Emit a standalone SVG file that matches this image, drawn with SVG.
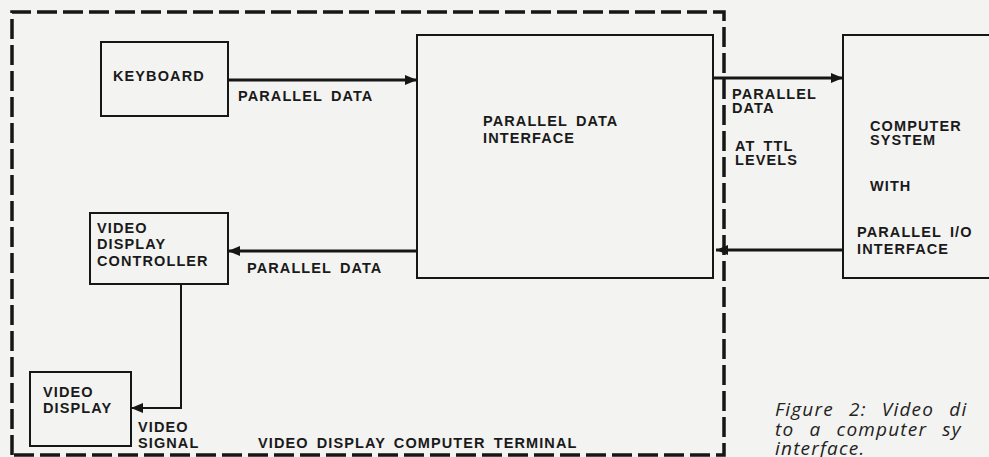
<svg xmlns="http://www.w3.org/2000/svg" width="989" height="457" viewBox="0 0 989 457">
<style>
.bg{fill:#f3f3f1}
.box{fill:none;stroke:#161616;stroke-width:2}
.wire{fill:none;stroke:#161616;stroke-width:3}
.thin{fill:none;stroke:#161616;stroke-width:2}
.border{fill:none;stroke:#161616;stroke-width:3.5;stroke-dasharray:20 6}
.t{font-family:"Liberation Sans",Arial,sans-serif;font-weight:bold;font-size:14.5px;letter-spacing:1.1px;word-spacing:3px;fill:#1a1a1a}
.cap{font-family:"Open Sans","Liberation Sans",sans-serif;font-style:italic;font-size:19px;letter-spacing:1.2px;word-spacing:9px;fill:#222}
</style>
<defs>
<marker id="ah" viewBox="0 0 12 10" refX="12" refY="5" markerWidth="12" markerHeight="10" markerUnits="userSpaceOnUse" orient="auto">
<path d="M0,0 L12,5 L0,10 Z" fill="#161616"/>
</marker>
</defs>
<rect class="bg" x="0" y="0" width="989" height="457"/>
<g id="terminal-border">
<path class="border" d="M12,455 L12,12 L724,12 L724,455 Z"/>
</g>
<g id="keyboard">
<rect class="box" x="101" y="42" width="127" height="74"/>
<text class="t" x="113" y="81">KEYBOARD</text>
</g>
<g id="parallel-data-interface">
<rect class="box" x="417" y="35" width="296" height="243"/>
<text class="t" x="483" y="126">PARALLEL DATA</text>
<text class="t" x="483" y="143">INTERFACE</text>
</g>
<g id="computer-system">
<rect class="box" x="843" y="35" width="160" height="243"/>
<text class="t" x="870" y="131">COMPUTER</text>
<text class="t" x="870" y="145">SYSTEM</text>
<text class="t" x="870" y="191">WITH</text>
<text class="t" x="857" y="237">PARALLEL I/O</text>
<text class="t" x="857" y="254">INTERFACE</text>
</g>
<g id="video-display-controller">
<rect class="box" x="90" y="213" width="138" height="71"/>
<text class="t" x="97" y="233">VIDEO</text>
<text class="t" x="97" y="249">DISPLAY</text>
<text class="t" x="97" y="266">CONTROLLER</text>
</g>
<g id="video-display">
<rect class="box" x="30" y="372" width="101" height="74"/>
<text class="t" x="43" y="397">VIDEO</text>
<text class="t" x="43" y="413">DISPLAY</text>
</g>
<g id="connectors">
<path class="wire" d="M228,80 L417,80" marker-end="url(#ah)"/>
<path class="wire" d="M713,78 L843,78" marker-end="url(#ah)"/>
<path class="wire" d="M843,250 L716,250" marker-end="url(#ah)"/>
<path class="wire" d="M417,251 L228,251" marker-end="url(#ah)"/>
<path class="thin" d="M181,284 L181,408 L131,408" marker-end="url(#ah)"/>
</g>
<g id="labels">
<text class="t" x="238" y="101">PARALLEL DATA</text>
<text class="t" x="732" y="99">PARALLEL</text>
<text class="t" x="732" y="113">DATA</text>
<text class="t" x="735" y="151">AT TTL</text>
<text class="t" x="735" y="165">LEVELS</text>
<text class="t" x="247" y="273">PARALLEL DATA</text>
<text class="t" x="138" y="432">VIDEO</text>
<text class="t" x="138" y="448">SIGNAL</text>
<text class="t" x="258" y="448">VIDEO DISPLAY COMPUTER TERMINAL</text>
</g>
<g id="caption">
<text class="cap" x="775" y="416">Figure 2: Video di</text>
<text class="cap" x="775" y="436">to a computer sy</text>
<text class="cap" x="775" y="455">interface.</text>
</g>
</svg>
